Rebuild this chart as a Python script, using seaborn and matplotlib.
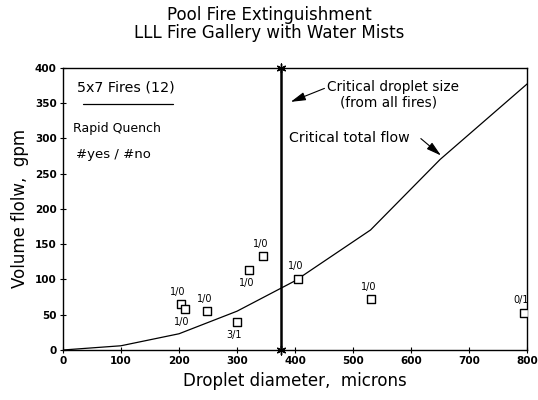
import matplotlib
matplotlib.use("Agg")
import matplotlib.pyplot as plt
import seaborn as sns
import pandas as pd

# fire tests: droplet diameter (microns), total flow (gpm), rapid quench yes/no
drop_diam = [203, 210, 249, 300, 321, 345, 405, 531, 794]
flow = [65, 58, 55, 39, 113, 133, 101, 72, 53]
quench = ["1/0", "1/0", "1/0", "3/1", "1/0", "1/0", "1/0", "1/0", "0/1"]
label_side = ["up", "down", "up", "down", "down", "up", "up", "up", "up"]

# critical total flow curve
curve_x = [0, 100, 200, 300, 400, 530, 650, 800]
curve_y = [0, 6, 23, 55, 98, 170, 270, 377]

crit_drop = 375

fires = pd.DataFrame({"diam": drop_diam, "flow": flow, "label": quench, "side": label_side})
curve = pd.DataFrame({"diam": curve_x, "flow": curve_y})

sns.set_style("ticks")
plt.rcParams["font.family"] = ["DejaVu Sans"]
plt.rcParams["text.color"] = "black"
plt.rcParams["axes.labelcolor"] = "black"
plt.rcParams["xtick.color"] = "black"
plt.rcParams["ytick.color"] = "black"
plt.rcParams["axes.edgecolor"] = "black"

fig = plt.figure(figsize=(5.38, 4.0), dpi=100)
ax = fig.add_axes([0.117, 0.125, 0.863, 0.706])

sns.lineplot(data=curve, x="diam", y="flow", ax=ax, color="black", lw=0.9)
sns.scatterplot(data=fires, x="diam", y="flow", ax=ax, marker="s", s=30,
                facecolor="white", edgecolor="black", linewidth=1.0, zorder=3)

for _, r in fires.iterrows():
    dy = 9 if r["side"] == "up" else -9
    ax.annotate(r["label"], (r["diam"], r["flow"]), xytext=(-2, dy),
                textcoords="offset points", ha="center", va="center", fontsize=7)

ax.axvline(crit_drop, color="black", lw=1.8)
ax.scatter([crit_drop, crit_drop], [0, 400], marker=(6, 2, 0), s=40,
           color="black", lw=1, clip_on=False, zorder=4)

ax.set_xlim(0, 800)
ax.set_ylim(0, 400)
ax.set_xticks(range(0, 801, 100))
ax.set_yticks(range(0, 401, 50))
ax.tick_params(direction="inout", length=5, width=0.8, labelsize=7.5, pad=2)
for lab in ax.get_xticklabels() + ax.get_yticklabels():
    lab.set_fontweight("bold")
for s in ax.spines.values():
    s.set_linewidth(1.0)
    s.set_visible(True)

ax.set_xlabel("Droplet diameter,  microns", fontsize=12, labelpad=4)
ax.set_ylabel("Volume flolw,  gpm", fontsize=12, labelpad=4)

fig.text(0.5, 0.985, "Pool Fire Extinguishment\nLLL Fire Gallery with Water Mists",
         ha="center", va="top", fontsize=12, linespacing=1.0)

ax.text(25, 372, "5x7 Fires (12)", fontsize=10.3, va="center")
ax.plot([35, 190], [349, 349], color="black", lw=0.9)
ax.text(17, 314, "Rapid Quench", fontsize=9, va="center")
ax.text(22, 277, "#yes / #no", fontsize=9.5, va="center")

ax.text(455, 362, "Critical droplet size\n   (from all fires)", fontsize=9.8,
        va="center", linespacing=1.15)
ax.annotate("", xy=(388, 350), xytext=(455, 372),
            arrowprops=dict(arrowstyle="-|>,head_length=0.9,head_width=0.25",
                            color="black", lw=0.8))
ax.text(390, 300, "Critical total flow", fontsize=10.2, va="center")
ax.annotate("", xy=(655, 273), xytext=(613, 302),
            arrowprops=dict(arrowstyle="-|>,head_length=0.9,head_width=0.25",
                            color="black", lw=0.8))

fig.savefig("out.png", dpi=100)
